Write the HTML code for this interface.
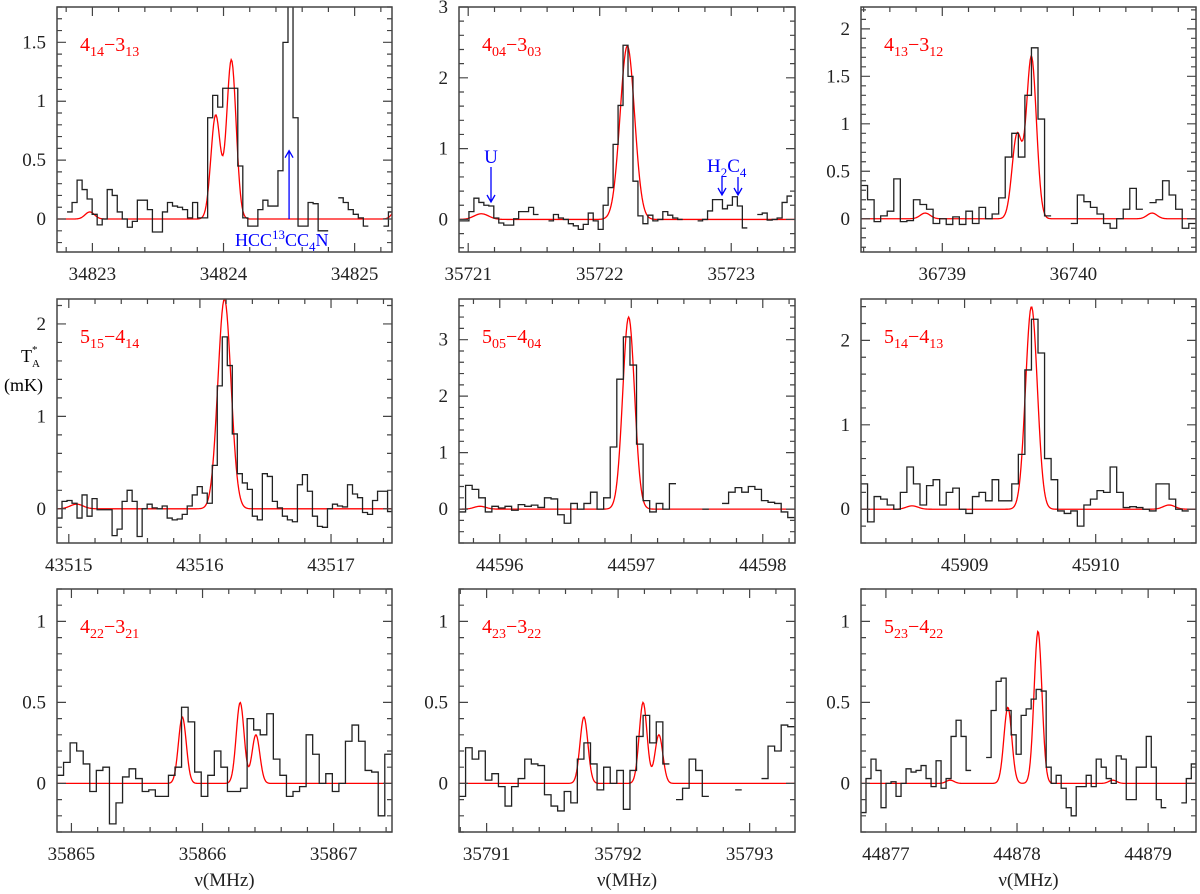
<!DOCTYPE html>
<html><head><meta charset="utf-8"><style>
html,body{margin:0;padding:0;background:#fff;}
svg{display:block;font-family:"Liberation Serif",serif;}
</style></head><body>
<svg id="chart" width="1200" height="894" viewBox="0 0 1200 894" xmlns="http://www.w3.org/2000/svg">
<g>
<text x="21" y="362" font-size="18">T<tspan font-size="11" dy="5">A</tspan><tspan font-size="11" dx="-8" dy="-14">*</tspan></text>
<text x="4" y="391" font-size="18">(mK)</text>
</g>
</svg>
<script>
// ---- data (MHz / mK) ----
const p1Values=[null,null,0.06,0.14,0.33,0.25,0.17,0.04,-0.05,0.0,0.25,0.2,0.06,0.0,-0.07,-0.02,0.16,0.16,0.08,-0.11,-0.11,0.06,0.14,0.11,0.1,0.08,0.01,0.14,0.01,0.01,0.86,1.05,0.95,1.11,1.11,1.11,0.45,0.01,-0.06,-0.06,0.08,0.16,0.11,0.11,0.41,1.5,2.5,0.86,-0.06,-0.06,0.14,0.13,-0.1,-0.1,null,null,0.18,0.14,0.08,0.04,0.01,-0.06,null,null,null,-0.06,0.06];
const p1ModelCenters=[34822.98,34823.94,34824.06,34825.33];
const p1ModelAmps=[0.06,0.88,1.35,0.1];
const p2Values=[-0.02,-0.02,0.11,0.3,0.24,0.2,0.19,0.02,-0.05,-0.08,-0.08,0.01,0.11,0.11,0.17,0.07,null,null,-0.02,0.07,0.02,0.0,-0.06,-0.09,-0.14,-0.07,0.09,-0.02,-0.14,0.2,0.45,1.06,1.61,2.46,2.02,0.54,0.05,-0.06,0.06,-0.02,0.0,0.11,0.06,0.02,0.0,null,null,null,-0.02,0.0,0.12,0.28,0.28,0.15,0.2,0.32,0.19,-0.12,null,null,0.07,0.09,-0.01,0.0,0.02,0.24,0.33];
const p2ModelCenters=[35721.1,35722.21];
const p2ModelAmps=[0.08,2.45];
const p3Values=[0.35,0.2,-0.03,0.03,0.08,0.42,-0.03,-0.02,0.2,0.15,0.1,-0.05,0.0,-0.06,0.02,-0.06,0.08,-0.05,0.12,0.0,0.05,0.22,0.65,0.9,0.65,1.3,1.8,1.05,0.03,null,null,null,-0.05,0.25,0.18,0.12,0.05,-0.05,-0.1,0.0,0.1,0.32,0.1,null,0.17,0.2,0.4,0.25,0.1,-0.1,-0.05];
const p3ModelCenters=[36738.87,36739.57,36739.68,36740.6];
const p3ModelAmps=[0.06,0.88,1.7,0.06];
const p4Values=[-0.1,0.08,0.09,0.06,-0.1,0.15,-0.08,0.11,-0.01,-0.01,-0.01,-0.29,-0.22,0.08,0.2,0.08,-0.3,0.0,0.05,0.01,0.0,0.03,-0.1,-0.12,-0.11,-0.06,0.03,0.15,0.24,0.17,0.06,0.47,1.33,1.86,1.55,0.81,0.38,0.28,0.21,-0.08,-0.12,0.38,0.35,0.08,0.01,-0.08,-0.12,-0.14,0.26,0.37,0.19,-0.08,-0.19,-0.2,0.0,0.05,0.03,0.02,0.26,0.16,0.12,-0.04,-0.06,0.09,0.19,0.19,-0.03];
const p4ModelCenters=[43515.06,43516.187];
const p4ModelAmps=[0.05,2.27];
const p5Values=[-0.05,0.42,0.35,0.2,-0.05,0.05,0.02,0.05,-0.02,0.08,0.05,0.07,0.03,0.2,0.18,-0.1,-0.25,0.1,0.0,0.1,0.3,0.0,0.2,1.1,2.3,3.05,2.55,1.15,0.15,-0.05,0.1,0.0,0.45,null,null,null,null,0.0,null,null,0.1,0.3,0.38,0.3,0.4,0.35,0.15,0.12,0.1,-0.05,-0.15];
const p5ModelCenters=[44595.85,44596.98];
const p5ModelAmps=[0.05,3.4];
const p6Values=[0.3,-0.15,0.15,0.12,0.05,0.0,0.2,0.5,0.3,0.05,0.28,0.35,0.05,0.2,0.25,0.0,-0.05,0.15,0.2,0.1,0.35,0.1,0.1,0.3,0.65,1.65,2.25,1.85,0.6,0.35,-0.02,-0.05,-0.02,-0.2,0.05,0.12,0.22,0.2,0.5,0.2,0.02,0.03,0.02,0.0,-0.02,0.3,0.3,0.12,0.0,-0.02,null];
const p6ModelCenters=[45908.6,45909.51,45910.56];
const p6ModelAmps=[0.04,2.4,0.05];
const p7Values=[0.05,0.13,0.25,0.2,0.12,-0.05,0.08,0.1,-0.25,-0.12,0.04,0.09,0.03,-0.05,-0.04,-0.08,-0.08,0.05,0.1,0.47,0.38,0.07,-0.08,0.05,0.2,0.1,-0.05,-0.05,-0.03,0.4,0.33,0.3,0.43,0.15,0.05,-0.08,-0.05,-0.02,0.3,0.18,0.0,0.06,-0.05,0.0,0.26,0.36,0.26,0.08,0.07,-0.2,0.18];
const p7ModelCenters=[35865.846,35866.287,35866.407];
const p7ModelAmps=[0.41,0.5,0.3];
const p8Values=[-0.08,0.22,0.15,0.2,0.02,0.06,-0.02,-0.14,-0.02,0.03,0.15,0.12,0.11,-0.07,-0.14,-0.17,-0.05,-0.12,0.15,0.25,0.12,-0.04,0.1,0.0,0.08,-0.16,0.08,0.29,0.42,0.25,0.38,0.12,null,-0.1,-0.03,0.15,0.08,-0.08,null,null,null,null,-0.04,null,null,null,0.03,0.23,0.2,0.36,0.35];
const p8ModelCenters=[35791.74,35792.19,35792.31];
const p8ModelAmps=[0.41,0.5,0.3];
const p9Values=[-0.18,0.03,0.15,0.08,-0.15,0.0,0.01,-0.08,0.0,0.09,0.07,0.08,0.11,0.03,-0.02,0.14,-0.03,0.03,0.29,0.39,0.29,0.08,null,null,null,0.16,0.45,0.63,0.65,0.45,0.3,0.18,0.42,0.46,0.52,0.58,0.57,0.1,0.0,0.05,-0.03,-0.15,-0.2,-0.02,-0.02,0.05,-0.02,0.15,0.1,0.03,0.0,0.17,0.15,-0.1,-0.1,0.1,0.1,0.29,0.1,-0.1,-0.15,null,null,null,-0.12,0.03,0.12];
const p9ModelCenters=[44877.49,44877.93,44878.16,44878.73];
const p9ModelAmps=[0.02,0.47,0.94,0.02];

const xTickLabels=[[34823,34824,34825],[35721,35722,35723],[36739,36740],[43515,43516,43517],[44596,44597,44598],[45909,45910],[35865,35866,35867],[35791,35792,35793],[44877,44878,44879]];
const yTickLabels=[[0,0.5,1,1.5],[0,1,2,3],[0,0.5,1,1.5,2],[0,1,2],[0,1,2,3],[0,1,2],[0,0.5,1],[0,0.5,1],[0,0.5,1]];

// ---- layout ----
const cols=[[57,392],[459,795],[861,1196]];
const rows=[[7,252],[299,543],[589,832]];
const SPAN=2.555;
const panels=[
 {name:'4-14-3-13',lab:['4','14','3','13'],xmin:34822.73,ymin:-0.28,ymax:1.8,minor:0.1,dx:0.0383,vals:p1Values,mc:p1ModelCenters,ma:p1ModelAmps,sig:0.036},
 {name:'4-04-3-03',lab:['4','04','3','03'],xmin:35720.93,ymin:-0.46,ymax:3.0,minor:0.2,dx:0.0378,vals:p2Values,mc:p2ModelCenters,ma:p2ModelAmps,sig:0.055},
 {name:'4-13-3-12',lab:['4','13','3','12'],xmin:36738.38,ymin:-0.35,ymax:2.23,minor:0.1,dx:0.05,vals:p3Values,mc:p3ModelCenters,ma:p3ModelAmps,sig:0.038},
 {name:'5-15-4-14',lab:['5','15','4','14'],xmin:43514.91,ymin:-0.37,ymax:2.27,minor:0.2,dx:0.0382,vals:p4Values,mc:p4ModelCenters,ma:p4ModelAmps,sig:0.05},
 {name:'5-05-4-04',lab:['5','05','4','04'],xmin:44595.69,ymin:-0.6,ymax:3.72,minor:0.2,dx:0.05,vals:p5Values,mc:p5ModelCenters,ma:p5ModelAmps,sig:0.045},
 {name:'5-14-4-13',lab:['5','14','4','13'],xmin:45908.21,ymin:-0.4,ymax:2.49,minor:0.2,dx:0.05,vals:p6Values,mc:p6ModelCenters,ma:p6ModelAmps,sig:0.045},
 {name:'4-22-3-21',lab:['4','22','3','21'],xmin:35864.89,ymin:-0.3,ymax:1.2,minor:0.1,dx:0.05,vals:p7Values,mc:p7ModelCenters,ma:p7ModelAmps,sig:0.03},
 {name:'4-23-3-22',lab:['4','23','3','22'],xmin:35790.79,ymin:-0.3,ymax:1.2,minor:0.1,dx:0.05,vals:p8Values,mc:p8ModelCenters,ma:p8ModelAmps,sig:0.03},
 {name:'5-23-4-22',lab:['5','23','4','22'],xmin:44876.81,ymin:-0.3,ymax:1.2,minor:0.1,dx:0.03817,vals:p9Values,mc:p9ModelCenters,ma:p9ModelAmps,sig:0.03}
];
const NS='http://www.w3.org/2000/svg';
const svg=document.getElementById('chart');
function mk(tag,attrs,parent){const e=document.createElementNS(NS,tag);for(const k in attrs)e.setAttribute(k,attrs[k]);parent.appendChild(e);return e;}

panels.forEach((p,pi)=>{
  const [L,R]=cols[pi%3],[T,B]=rows[Math.floor(pi/3)];
  const xmax=p.xmin+SPAN;
  const X=f=>L+(f-p.xmin)/(xmax-p.xmin)*(R-L);
  const Y=v=>B-(v-p.ymin)/(p.ymax-p.ymin)*(B-T);
  const g=mk('g',{},svg);
  
  
  const cid='clip'+pi;
  const cp=mk('clipPath',{id:cid},g);mk('rect',{x:L,y:T,width:R-L,height:B-T},cp);
  // model
  let d='';
  for(let i=0;i<=400;i++){const f=p.xmin+SPAN*i/400;let v=0;p.mc.forEach((c,k)=>{v+=p.ma[k]*Math.exp(-((f-c)**2)/(2*p.sig*p.sig));});d+=(i?'L':'M')+X(f).toFixed(2)+','+Y(v).toFixed(2);}
  const model=mk('path',{d:d,fill:'none',stroke:'#f00','stroke-width':1.3,'clip-path':'url(#'+cid+')'},g);
  
  
  // histogram
  let h='',prev=null;
  p.vals.forEach((v,i)=>{
    if(v===null){prev=null;return;}
    const x0=X(p.xmin+i*p.dx),x1=X(p.xmin+(i+1)*p.dx),y=Y(v);
    if(prev===null)h+='M'+x0.toFixed(2)+','+y.toFixed(2);else h+='V'+y.toFixed(2);
    h+='H'+Math.min(x1,R).toFixed(2);prev=v;
  });
  const hist=mk('path',{d:h,fill:'none',stroke:'#222','stroke-width':1.3,'clip-path':'url(#'+cid+')'},g);
  
  
  // frame
  const fr=mk('rect',{x:L,y:T,width:R-L,height:B-T,fill:'none',stroke:'#444','stroke-width':1.5},g);
  
  
  // ticks
  let t='';
  for(let f=Math.ceil(p.xmin/0.2-1e-6)*0.2;f<=xmax;f+=0.2){const x=X(f);const maj=Math.abs(f-Math.round(f))<1e-6;const len=maj?9:5;t+=`M${x},${B}v${-len}M${x},${T}v${len}`;}
  for(let v=Math.ceil(p.ymin/p.minor-1e-6)*p.minor;v<=p.ymax+1e-9;v+=p.minor){const y=Y(v);const maj=p.minor===0.2?Math.abs(v-Math.round(v))<1e-6:Math.abs(v*2-Math.round(v*2))<1e-6;const len=maj?9:5;t+=`M${L},${y}h${len}M${R},${y}h${-len}`;}
  const tk=mk('path',{d:t,stroke:'#444','stroke-width':1.2,fill:'none'},g);
  
  
  xTickLabels[pi].forEach(f=>{const tx=mk('text',{x:X(f),y:B+28,'font-size':19,'text-anchor':'middle',fill:'#222'},g);tx.textContent=String(f);
    
    });
  yTickLabels[pi].forEach(v=>{const ty=mk('text',{x:L-11,y:Y(v)+6,'font-size':19,'text-anchor':'end',fill:'#222'},g);ty.textContent=String(v);
    
    });
  // transition label
  const lt=mk('text',{x:L+23,y:T+44,'font-size':20,fill:'#f00'},g);
  
  
  lt.innerHTML=`${p.lab[0]}<tspan font-size="14" dy="5">${p.lab[1]}</tspan><tspan dy="-5">\u2212${p.lab[2]}</tspan><tspan font-size="14" dy="5">${p.lab[3]}</tspan>`;
  if(pi>=6){const xl=mk('text',{x:(L+R)/2,y:886,'font-size':19,'text-anchor':'middle',fill:'#222'},g);xl.textContent='\u03bd(MHz)';
    
    }
  if(pi===0){
    const a=mk('g',{},g);
    mk('path',{d:`M${X(34824.5)},${Y(0)} V${Y(0.58)} M${X(34824.5)-4},${Y(0.58)+7} L${X(34824.5)},${Y(0.58)} L${X(34824.5)+4},${Y(0.58)+7}`,stroke:'#00f','stroke-width':1.3,fill:'none'},a);
    const tt=mk('text',{x:235,y:246,'font-size':18,fill:'#00f'},a);
    tt.innerHTML='HCC<tspan font-size="13" dy="-7">13</tspan><tspan dy="7">CC</tspan><tspan font-size="13" dy="5">4</tspan><tspan dy="-5">N</tspan>';
  }
  if(pi===1){
    const a=mk('g',{},g);
    const arr=(x,y0,y1)=>`M${x},${y0}V${y1}M${x-4},${y1-7}L${x},${y1}L${x+4},${y1-7}`;
    mk('path',{d:arr(491,167,202)+arr(722,177,195)+arr(738,177,195),stroke:'#00f','stroke-width':1.3,fill:'none'},a);
    const u=mk('text',{x:491,y:163,'font-size':19,'text-anchor':'middle',fill:'#00f'},a);u.textContent='U';
    const hc=mk('text',{x:707,y:172,'font-size':19,fill:'#00f'},a);
    hc.innerHTML='H<tspan font-size="13" dy="5">2</tspan><tspan dy="-5">C</tspan><tspan font-size="13" dy="5">4</tspan>';
  }
});
</script>
</body></html>
